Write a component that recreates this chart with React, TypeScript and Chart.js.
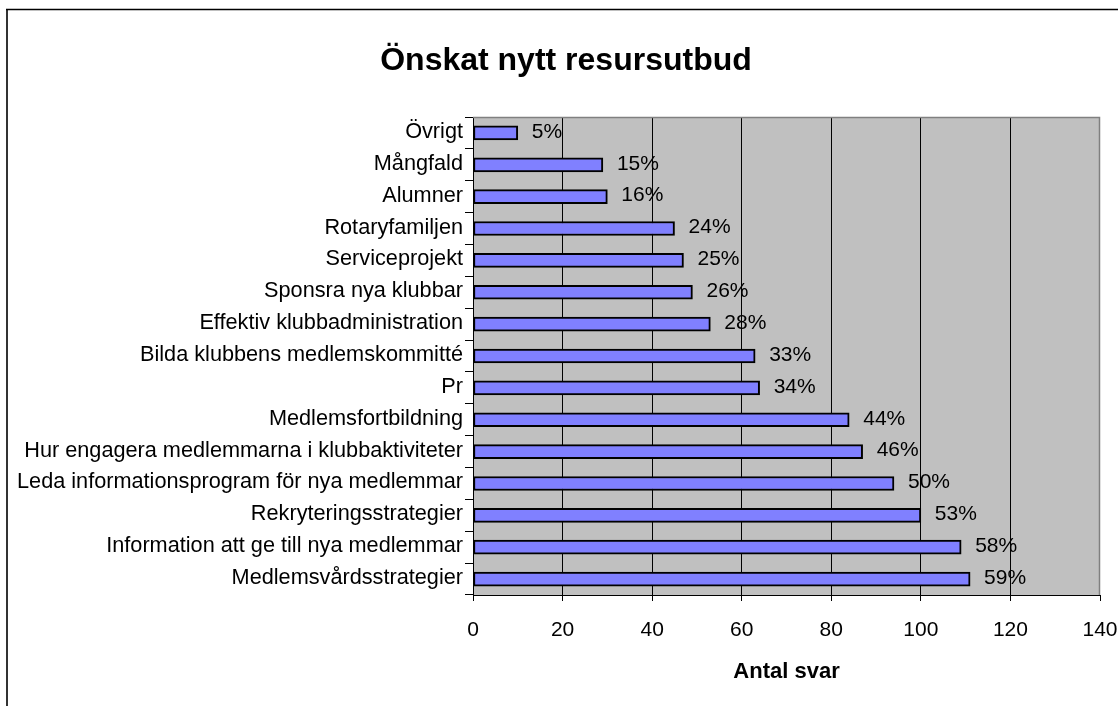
import React, { useEffect, useRef } from "react";
import { Chart, registerables } from "chart.js";

Chart.register(...registerables);

const categories: string[] = [
  "Övrigt",
  "Mångfald",
  "Alumner",
  "Rotaryfamiljen",
  "Serviceprojekt",
  "Sponsra nya klubbar",
  "Effektiv klubbadministration",
  "Bilda klubbens medlemskommitté",
  "Pr",
  "Medlemsfortbildning",
  "Hur engagera medlemmarna i klubbaktiviteter",
  "Leda informationsprogram för nya medlemmar",
  "Rekryteringsstrategier",
  "Information att ge till nya medlemmar",
  "Medlemsvårdsstrategier",
];

const answers: number[] = [10, 29, 30, 45, 47, 49, 53, 63, 64, 84, 87, 94, 100, 109, 111];

const percentLabels: string[] = [
  "5%", "15%", "16%", "24%", "25%", "26%", "28%", "33%", "34%", "44%", "46%", "50%", "53%", "58%", "59%",
];

const chartTitle = "Önskat nytt resursutbud";
const xAxisTitle = "Antal svar";

const FONT = "Arial, 'Liberation Sans', sans-serif";

const framePlugin = {
  id: "framePlugin",
  beforeDraw(chart: any) {
    const { ctx, chartArea } = chart;
    ctx.save();
    ctx.fillStyle = "#ffffff";
    ctx.fillRect(0, 0, chart.width, chart.height);
    // outer frame
    ctx.strokeStyle = "#333333";
    ctx.lineWidth = 2;
    ctx.beginPath();
    ctx.moveTo(7, chart.height);
    ctx.lineTo(7, 9.5);
    ctx.stroke();
    ctx.strokeStyle = "#000000";
    ctx.lineWidth = 1.5;
    ctx.beginPath();
    ctx.moveTo(6, 9.5);
    ctx.lineTo(chart.width, 9.5);
    ctx.stroke();
    // plot background
    ctx.fillStyle = "#C0C0C0";
    ctx.fillRect(chartArea.left, chartArea.top, chartArea.right - chartArea.left, chartArea.bottom - chartArea.top);
    // title
    ctx.fillStyle = "#000000";
    ctx.font = `bold 32px ${FONT}`;
    ctx.textAlign = "center";
    ctx.textBaseline = "alphabetic";
    ctx.fillText(chartTitle, 566, 70);
    ctx.restore();
  },
  beforeDatasetsDraw(chart: any) {
    const { ctx, chartArea } = chart;
    ctx.save();
    ctx.strokeStyle = "#808080";
    ctx.lineWidth = 1.5;
    ctx.beginPath();
    ctx.moveTo(chartArea.left, chartArea.top + 0.5);
    ctx.lineTo(chartArea.right - 0.5, chartArea.top + 0.5);
    ctx.lineTo(chartArea.right - 0.5, chartArea.bottom);
    ctx.stroke();
    ctx.restore();
  },
  afterDatasetsDraw(chart: any) {
    const { ctx } = chart;
    const meta = chart.getDatasetMeta(0);
    ctx.save();
    ctx.fillStyle = "#000000";
    ctx.font = `21px ${FONT}`;
    ctx.textAlign = "left";
    ctx.textBaseline = "middle";
    meta.data.forEach((bar: any, i: number) => {
      ctx.fillText(percentLabels[i], bar.x + 14, bar.y - 1);
    });
    ctx.restore();
  },
};

export default function App() {
  const canvasRef = useRef<HTMLCanvasElement | null>(null);

  useEffect(() => {
    if (!canvasRef.current) return;
    const chart = new Chart(canvasRef.current, {
      type: "bar",
      data: {
        labels: categories,
        datasets: [
          {
            data: answers,
            backgroundColor: "#8080FF",
            borderColor: "#000000",
            borderWidth: 2,
            borderSkipped: false,
            barThickness: 14,
          },
        ],
      },
      options: {
        indexAxis: "y",
        responsive: false,
        animation: false,
        layout: { padding: { top: 117, right: 18, left: 0, bottom: 0 } },
        plugins: {
          legend: { display: false },
          tooltip: { enabled: false },
          title: { display: false },
        },
        scales: {
          x: {
            min: 0,
            max: 140,
            ticks: {
              stepSize: 20,
              color: "#000000",
              font: { family: FONT, size: 21 },
              padding: 17,
              maxRotation: 0,
            },
            grid: {
              color: (c: any) => (c.tick && (c.tick.value === 0 || c.tick.value === 140) ? "rgba(0,0,0,0)" : "#000000"),
              tickColor: "#000000",
              tickLength: 6,
              lineWidth: 1,
            },
            border: { display: true, color: "#000000", width: 1 },
            title: {
              display: true,
              text: xAxisTitle,
              color: "#000000",
              font: { family: FONT, size: 22, weight: "bold" },
              padding: { top: 14, bottom: 21 },
            },
            afterFit: (scale: any) => {
              scale.height = 111;
              scale.paddingLeft = 0;
              scale.paddingRight = 0;
            },
          },
          y: {
            ticks: {
              color: "#000000",
              font: { family: FONT, size: 21.7 },
              padding: 2,
              labelOffset: -1,
              autoSkip: false,
            },
            grid: {
              offset: true,
              drawOnChartArea: false,
              drawTicks: true,
              tickLength: 8,
              color: "#000000",
            },
            border: { display: true, color: "#000000", width: 1 },
            afterFit: (scale: any) => {
              scale.width = 473;
              scale.paddingTop = 0;
              scale.paddingBottom = 0;
            },
          },
        },
      },
      plugins: [framePlugin],
    });
    return () => chart.destroy();
  }, []);

  return (
    <div style={{ position: "fixed", left: 0, top: 0, width: 1118, height: 706, background: "#fff" }}>
      <canvas ref={canvasRef} width={1118} height={706} style={{ display: "block" }} />
    </div>
  );
}
